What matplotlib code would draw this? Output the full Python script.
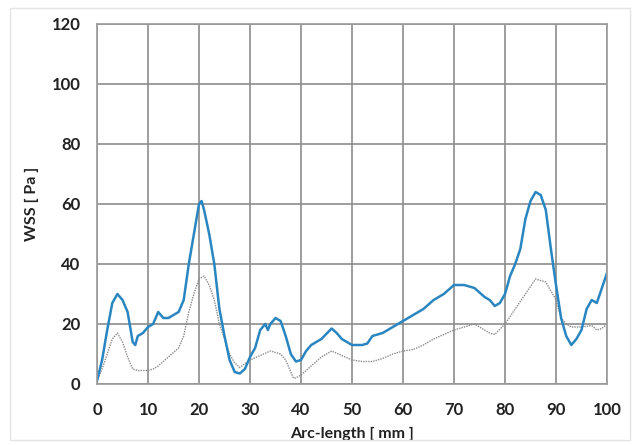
import matplotlib.pyplot as plt

# arc length [mm] and WSS [Pa]
x_blue = [0, 1, 2, 3, 4, 5, 6, 7, 7.5, 8, 9, 10, 11, 12, 12.5, 13, 14, 15, 16, 17,
          18, 19, 19.5, 20, 20.5, 21, 22, 23, 24, 25, 26, 27, 28, 29, 30, 31, 32, 33,
          33.5, 34, 35, 36, 37, 38, 39, 40, 41, 42, 44, 46, 47, 48, 50, 52, 53, 54,
          56, 58, 60, 61, 62, 64, 66, 68, 70, 72, 74, 76, 77, 78, 79, 80, 81, 82, 83,
          84, 85, 86, 87, 88, 89, 90, 91, 92, 93, 94, 95, 96, 97, 98, 99, 100]
wss_blue = [1, 8, 18, 27, 30, 28, 24, 14, 13, 16, 17, 19, 20, 24, 23, 22, 22, 23, 24, 28,
            40, 50, 55, 60, 61, 58, 50, 40, 25, 16, 8, 4, 3.5, 5, 9, 12, 18, 20,
            18, 20, 22, 21, 16, 10, 7.5, 8, 11, 13, 15, 18.5, 17, 15, 13, 13, 13.5, 16,
            17, 19, 21, 22, 23, 25, 28, 30, 33, 33, 32, 29, 28, 26, 27, 30, 36, 40, 45,
            55, 61, 64, 63, 58, 45, 33, 22, 16, 13, 15, 18, 25, 28, 27, 32, 37]

x_gray = [0, 1, 2, 3, 4, 5, 6, 7, 8, 10, 11, 12, 14, 16, 17, 18, 19, 20, 21, 22, 23,
          24, 25, 26, 27, 28, 30, 32, 34, 36, 37, 38, 38.5, 39, 40, 42, 44, 46, 48,
          50, 52, 54, 56, 58, 60, 62, 64, 66, 68, 70, 72, 74, 76, 77, 78, 80, 82, 84,
          86, 88, 89, 90, 91, 92, 93, 95, 97, 98, 99, 100]
wss_gray = [1, 5, 10, 15, 17, 14, 9, 5, 4.5, 4.5, 5, 6, 9, 12, 16, 24, 30, 35, 36, 33, 28,
            20, 15, 10, 7, 5.5, 8, 9.5, 11, 10, 8, 4, 2, 2, 3, 6, 9, 11, 9.5,
            8, 7.5, 7.5, 8.5, 10, 11, 11.5, 13, 15, 16.5, 18, 19, 20, 18, 17, 16.5, 20, 25, 30,
            35, 34, 31, 28, 22, 20, 19, 19, 19.5, 18, 18.5, 20]

plt.rcParams['font.family'] = ['Lato', 'DejaVu Sans']

fig = plt.figure(figsize=(6.35, 4.45), dpi=100)
ax = fig.add_axes([97 / 635, 1 - 384 / 445, 510 / 635, 360 / 445])

# light chart frame like the spreadsheet export
frame = plt.Rectangle((10 / 635, 5 / 445), 620 / 635, 432 / 445, transform=fig.transFigure,
                      fill=False, edgecolor='#e4e4e4', linewidth=1.0)
fig.add_artist(frame)

ax.plot(x_gray, wss_gray, color='#8a8a8a', linestyle=(0, (1, 0.8)), linewidth=1.0)
ax.plot(x_blue, wss_blue, color='#2a86c0', linewidth=1.8)

ax.set_xlim(0, 100)
ax.set_ylim(0, 120)
ax.set_xticks(range(0, 101, 10))
ax.set_yticks(range(0, 121, 20))
ax.grid(True, color='#8c8c8c', linewidth=1.2)
ax.set_axisbelow(True)
for s in ax.spines.values():
    s.set_color('#9a9a9a')
    s.set_linewidth(1.2)
ax.tick_params(length=0, labelsize=12)
ax.tick_params(axis='x', pad=13)
ax.tick_params(axis='y', pad=12)
for lbl in ax.get_xticklabels() + ax.get_yticklabels():
    lbl.set_fontweight('bold')
    lbl.set_color('#222222')

ax.set_xlabel('Arc-length [ mm ]', fontsize=11.5, fontweight='bold', color='#222222', labelpad=6)
ax.set_ylabel('WSS [ Pa ]', fontsize=11.5, fontweight='bold', color='#222222', labelpad=9)

fig.savefig('out.png', dpi=100)
